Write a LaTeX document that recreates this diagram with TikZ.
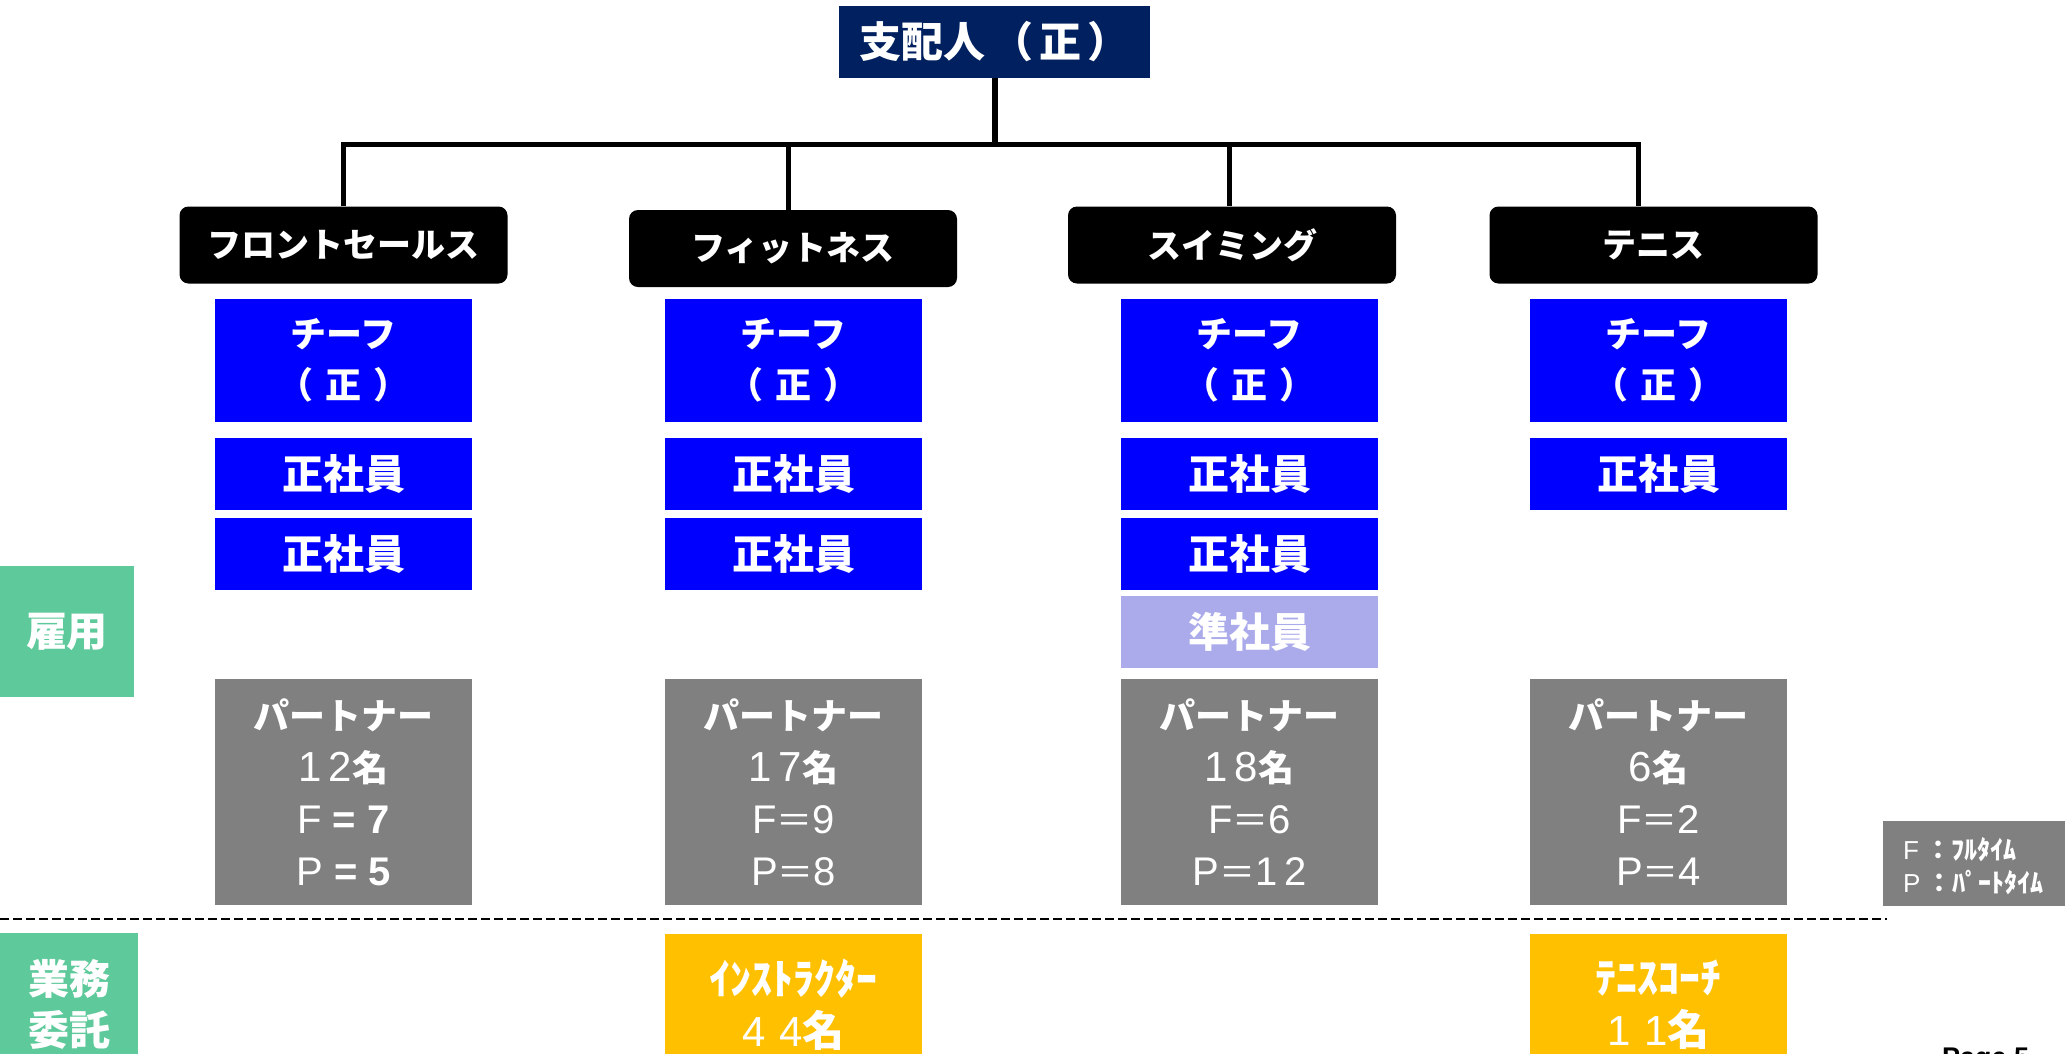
\documentclass[tikz,border=0pt]{standalone}
\usepackage{fontspec}
\setmainfont{Noto Sans CJK JP}
\newfontfamily\lat{Liberation Sans}
\definecolor{navy}{HTML}{002060}
\definecolor{vblue}{HTML}{0000FF}
\definecolor{lav}{HTML}{ABABEB}
\definecolor{gry}{HTML}{808080}
\definecolor{org}{HTML}{FFC000}
\definecolor{grn}{HTML}{5EC99B}
\newcommand{\fs}[2]{\fontsize{#1}{#2}\selectfont}
\newcommand{\dg}[1]{{\lat\mdseries\fs{42}{52}#1}}
\newcommand{\lt}[1]{{\lat\mdseries\fs{40}{52}#1}}
\newcommand{\eqfw}{{\mdseries＝}}
\newcommand{\chieftext}{チーフ\\（\hspace{12pt}正\hspace{12pt}）}
\tikzset{
  box/.style={inner sep=0pt, text=white, align=center, minimum width=257pt},
  hdr/.style={inner sep=0pt, fill=black, text=white, rounded corners=9pt, minimum width=328pt, minimum height=77pt, font=\bfseries\fs{34}{40}},
  chief/.style={box, fill=vblue, minimum height=123pt, font=\bfseries\fs{36}{51}},
  emp/.style={box, fill=vblue, minimum height=72pt, font=\bfseries\fs{41}{48}},
  semi/.style={box, fill=lav, minimum height=72pt, font=\bfseries\fs{41}{48}},
  partner/.style={box, fill=gry, minimum height=226pt, font=\bfseries\fs{36}{52}},
  contract/.style={box, fill=org, minimum height=141pt, font=\bfseries\fs{42}{50}},
  side/.style={inner sep=0pt, fill=grn, text=white, align=center, font=\bfseries\fs{41}{51}},
  conn/.style={line width=5pt, line join=miter},
}
\begin{document}
\begin{tikzpicture}[x=1pt,y=-1pt]
\useasboundingbox (0,0) rectangle (2065,1053);
% top
\node[inner sep=0pt, fill=navy, text=white, minimum width=311pt, minimum height=72pt, font=\bfseries\fs{42}{48}] (top) at (994.5,42) {支配人\hspace{6pt}（\hspace{6pt}正\hspace{6pt}）};
% headers
\node[hdr] (h1) at (343.5,245) {フロントセールス};
\node[hdr] (h2) at (793,248.5) {フィットネス};
\node[hdr] (h3) at (1232,245) {スイミング};
\node[hdr] (h4) at (1653.5,245) {テニス};
% connectors
\coordinate (j1) at (343,144);
\coordinate (j2) at (788,144);
\coordinate (j3) at (1229,144);
\coordinate (j4) at (1638,144);
\draw[line width=6pt] (top.south) -- (top.south |- j1);
\draw[conn] (j1 |- h1.north) -- (j1) -- (j4) -- (j4 |- h4.north);
\draw[conn] (j2) -- (j2 |- h2.north);
\draw[conn] (j3) -- (j3 |- h3.north);
% column 1
\node[chief] (c1) at (343.5,360.5) {\chieftext};
\node[emp] (e11) at (343.5,474) {正社員};
\node[emp] (e12) at (343.5,554) {正社員};
\node[partner] (p1) at (343.5,792) {パートナー\\\dg{1\,2}名\\{\lat\fs{40}{52}\mdseries F {\bfseries=} \bfseries 7}\\{\lat\fs{40}{52}\mdseries P {\bfseries=} \bfseries 5}};
% column 2
\node[chief] (c2) at (793.5,360.5) {\chieftext};
\node[emp] (e21) at (793.5,474) {正社員};
\node[emp] (e22) at (793.5,554) {正社員};
\node[partner] (p2) at (793.5,792) {パートナー\\\dg{1\,7}名\\\lt{F}\eqfw\lt{9}\\\lt{P}\eqfw\lt{8}};
\node[contract] (o2) at (793.5,1004.5) {ｲﾝｽﾄﾗｸﾀｰ\\[2pt]\dg{4\,\,4}名};
% column 3
\node[chief] (c3) at (1249.5,360.5) {\chieftext};
\node[emp] (e31) at (1249.5,474) {正社員};
\node[emp] (e32) at (1249.5,554) {正社員};
\node[semi] (s3) at (1249.5,632) {準社員};
\node[partner] (p3) at (1249.5,792) {パートナー\\\dg{1\,8}名\\\lt{F}\eqfw\lt{6}\\\lt{P}\eqfw\lt{1\,2}};
% column 4
\node[chief] (c4) at (1658.5,360.5) {\chieftext};
\node[emp] (e41) at (1658.5,474) {正社員};
\node[partner] (p4) at (1658.5,792) {パートナー\\\dg{6}名\\\lt{F}\eqfw\lt{2}\\\lt{P}\eqfw\lt{4}};
\node[contract] (o4) at (1658.5,1004.5) {ﾃﾆｽｺｰﾁ\\[2pt]\dg{1\,\,1}名};
% side labels
\node[side, minimum width=134pt, minimum height=131pt] (emp) at (67,631.5) {雇用};
\node[side, minimum width=138pt, minimum height=142pt] (itaku) at (69,1004) {業務\\委託};
% dashed divider
\coordinate (dL) at (0,919);
\coordinate (dR) at (1887,919);
\draw[line width=2.5pt, dash pattern=on 9pt off 4pt] (dL) -- (dR);
% legend
\node[inner sep=0pt, fill=gry, minimum width=190pt, minimum height=85pt, anchor=north west] (leg) at (1883,821) {};
\node[anchor=west, inner sep=0pt, text=white, align=left, font=\bfseries\fs{26}{33}] (legt) at (1903,866) {{\lat\mdseries F} ：ﾌﾙﾀｲﾑ\\{\lat\mdseries P} ：ﾊﾟｰﾄﾀｲﾑ};
% page number (cut off at the lower edge, as in the reference)
\node[anchor=base west, inner sep=0pt, font=\lat\bfseries\fs{27}{30}] (page) at (1942,1066) {Page 5};
\end{tikzpicture}
\end{document}
